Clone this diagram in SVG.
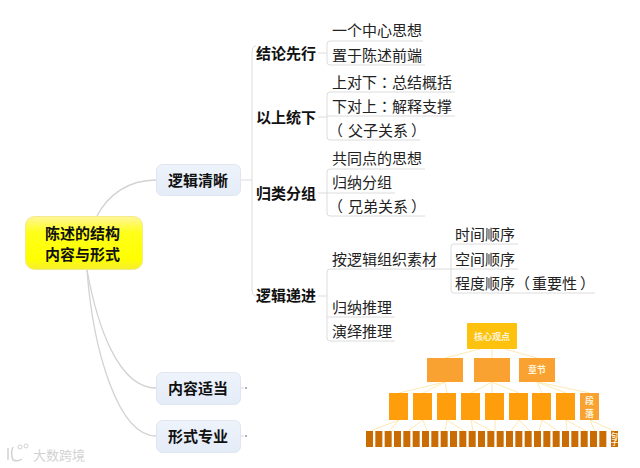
<svg xmlns="http://www.w3.org/2000/svg" width="640" height="468" viewBox="0 0 640 468">
<defs>
<linearGradient id="yg" x1="0" y1="0" x2="0" y2="1"><stop offset="0" stop-color="#fff59a"/><stop offset="0.3" stop-color="#ffff1a"/><stop offset="0.8" stop-color="#ffff00"/><stop offset="1" stop-color="#f6ee30"/></linearGradient>
<linearGradient id="bg" x1="0" y1="0" x2="0" y2="1"><stop offset="0" stop-color="#eef3fb"/><stop offset="1" stop-color="#e4ecf8"/></linearGradient>
</defs>
<style>
text{font-family:"Noto Sans CJK SC","Noto Sans",sans-serif;font-size:15px;fill:#222}
.tc{font-family:"Noto Sans CJK TC","Noto Sans",sans-serif}
.b{font-weight:700;fill:#111}
.m{text-anchor:middle}
.curve{fill:none;stroke:#d2d2d2;stroke-width:1.300}
.ln{fill:none;stroke:#dcdcdc;stroke-width:1}
.py{fill:none;stroke:#fbe3a0;stroke-width:.8}
.branch{fill:url(#bg);stroke:#dfe6f2;stroke-width:1}
.c0{fill:#fcc20e}
.c1{fill:#f9a231}
.c2{fill:#ff9e0c}
.c3{fill:#c96c03}
.w{fill:#fff3d8;font-weight:700;font-size:9px}
.dot{fill:#999}
.wm{fill:#d2d2d2;font-size:13px}
</style>
<g id="connectors">
<path class="curve" d="M97 216C108 195 128 180 156 180"/>
<path class="curve" d="M87 270C97 325 118 388 156 388"/>
<path class="curve" d="M87 270C93 350 118 436 156 436"/>
<path class="ln" d="M241 180H252M241 388H244M241 436H244"/>
<path class="ln" d="M256 46C253 46 252 49 252 54V288C252 293 253 296 256 296"/>
<path class="ln" d="M318 53H327M318 117H327M318 193H327M318 296H327"/>
<path class="ln" d="M423 41H330Q327 41 327 44V62Q327 65 330 65H425"/>
<path class="ln" d="M455 92H330Q327 92 327 95V137Q327 140 330 140H420M327 116H455"/>
<path class="ln" d="M425 169H330Q327 169 327 172V213Q327 216 330 216H425M327 193H395"/>
<path class="ln" d="M451 269H330Q327 269 327 272V338Q327 341 330 341H395M327 317H395"/>
<path class="ln" d="M518 244H454Q451 244 451 247V290Q451 293 454 293H595M451 269H518"/>
</g>
<g id="pyramid-links">
<path class="py" d="M480 349L445 358M492 349V358M505 349L537 358"/>
<path class="py" d="M445 382L399 393M445 382L423 393M445 382L447 393M492 382L471 393M492 382V393M492 382L519 393M537 382L542 393M537 382L566 393M537 382L590 393"/>
<path class="py" d="M399 420L370 431M399 420L389 431M423 420L408 431M423 420L427 431M447 420L445 431M447 420L464 431M471 420L473 431M471 420L492 431M495 420V431M519 420L511 431M519 420L530 431M542 420L539 431M542 420L558 431M566 420L567 431M566 420L586 431M590 420L595 431M590 420L614 431"/>
</g>
<g id="root"><rect x="25.500" y="216.500" width="117" height="53" rx="9" fill="url(#yg)" stroke="#f3ea8a"/><text class="b m" x="82.500" y="239">陈述的结构</text><text class="b m" x="82.500" y="260">内容与形式</text></g>
<g id="n1"><rect class="branch" x="156.500" y="164.500" width="84" height="31" rx="6"/><text class="b m" x="198" y="186">逻辑清晰</text></g>
<g id="n2"><rect class="branch" x="156.500" y="372.500" width="84" height="32" rx="6"/><text class="b m" x="198" y="394">内容适当</text><circle class="dot" cx="246" cy="388" r="1"/></g>
<g id="n3"><rect class="branch" x="156.500" y="420.500" width="84" height="32" rx="6"/><text class="b m" x="198" y="442">形式专业</text><circle class="dot" cx="246" cy="436" r="1"/></g>
<g id="a1"><text class="b" x="256" y="58.500">结论先行</text></g>
<g id="a2"><text class="b" x="256" y="122.500">以上统下</text></g>
<g id="a3"><text class="b" x="256" y="198.500">归类分组</text></g>
<g id="a4"><text class="b" x="256" y="301">逻辑递进</text></g>
<g id="leaf1"><text x="332" y="35.500">一个中心思想</text></g>
<g id="leaf2"><text x="332" y="60.500">置于陈述前端</text></g>
<g id="leaf3"><text x="332" y="87.500">上对下<tspan class="tc">：</tspan>总结概括</text></g>
<g id="leaf4"><text x="332" y="111.500">下对上<tspan class="tc">：</tspan>解释支撑</text></g>
<g id="leaf5"><text x="332" y="135.500"><tspan dx="-4">（</tspan><tspan dx="5">父子关系</tspan><tspan dx="3">）</tspan></text></g>
<g id="leaf6"><text x="332" y="163.500">共同点的思想</text></g>
<g id="leaf7"><text x="332" y="187.500">归纳分组</text></g>
<g id="leaf8"><text x="332" y="211.500"><tspan dx="-4">（</tspan><tspan dx="5">兄弟关系</tspan><tspan dx="3">）</tspan></text></g>
<g id="leaf9"><text x="332" y="264.500">按逻辑组织素材</text></g>
<g id="leaf10"><text x="455" y="239.500">时间顺序</text></g>
<g id="leaf11"><text x="455" y="264.500">空间顺序</text></g>
<g id="leaf12"><text x="455" y="288.500">程度顺序（<tspan dx="2">重要性</tspan><tspan dx="3">）</tspan></text></g>
<g id="leaf13"><text x="332" y="312.500">归纳推理</text></g>
<g id="leaf14"><text x="332" y="336.500">演绎推理</text></g>
<g id="pyramid">
<g id="p-top"><rect class="c0" x="467" y="323" width="50" height="26" rx="1"/><text class="w m" x="492" y="339.500">核心观点</text></g>
<g id="p-l2"><rect class="c1" x="427" y="358" width="36" height="24"/><rect class="c1" x="474" y="358" width="36" height="24"/><rect class="c1" x="519" y="358" width="36" height="24"/><text class="w m" x="537" y="373">章节</text></g>
<g id="p-l3"><rect class="c2" x="389" y="393" width="19" height="27"/><rect class="c2" x="413" y="393" width="19" height="27"/><rect class="c2" x="437" y="393" width="19" height="27"/><rect class="c2" x="461" y="393" width="19" height="27"/><rect class="c2" x="485" y="393" width="19" height="27"/><rect class="c2" x="509" y="393" width="19" height="27"/><rect class="c2" x="532" y="393" width="19" height="27"/><rect class="c2" x="556" y="393" width="19" height="27"/><rect class="c1" x="580" y="393" width="19" height="27"/><text class="w" x="589.500" y="396" style="writing-mode:vertical-rl;letter-spacing:4px">段落</text></g>
<g id="p-l4">
<rect class="c3" x="366" y="431" width="7" height="16"/><rect class="c3" x="375.330" y="431" width="7" height="16"/><rect class="c3" x="384.670" y="431" width="7" height="16"/><rect class="c3" x="394" y="431" width="7" height="16"/><rect class="c3" x="403.330" y="431" width="7" height="16"/><rect class="c3" x="412.670" y="431" width="7" height="16"/><rect class="c3" x="422" y="431" width="7" height="16"/><rect class="c3" x="431.330" y="431" width="7" height="16"/><rect class="c3" x="440.670" y="431" width="7" height="16"/><rect class="c3" x="450" y="431" width="7" height="16"/><rect class="c3" x="459.330" y="431" width="7" height="16"/><rect class="c3" x="468.670" y="431" width="7" height="16"/><rect class="c3" x="478" y="431" width="7" height="16"/><rect class="c3" x="487.330" y="431" width="7" height="16"/><rect class="c3" x="496.670" y="431" width="7" height="16"/><rect class="c3" x="506" y="431" width="7" height="16"/><rect class="c3" x="515.330" y="431" width="7" height="16"/><rect class="c3" x="524.670" y="431" width="7" height="16"/><rect class="c3" x="534" y="431" width="7" height="16"/><rect class="c3" x="543.330" y="431" width="7" height="16"/><rect class="c3" x="552.670" y="431" width="7" height="16"/><rect class="c3" x="562" y="431" width="7" height="16"/><rect class="c3" x="571.330" y="431" width="7" height="16"/><rect class="c3" x="580.670" y="431" width="7" height="16"/><rect class="c3" x="590" y="431" width="7" height="16"/><rect class="c3" x="599.330" y="431" width="7" height="16"/><rect class="c3" x="611" y="431" width="7" height="16"/><text class="w" x="614.500" y="432" style="font-size:7px;writing-mode:vertical-rl">句子</text>
</g>
</g>
<g id="watermark"><path d="M8 448V460M13 447Q10 453 13 460Q18 462 22 459" fill="none" stroke="#d2d2d2" stroke-width="1.500"/><circle cx="20" cy="447" r="2" fill="none" stroke="#d2d2d2"/><circle cx="26" cy="446" r="2" fill="none" stroke="#d2d2d2"/><text class="wm" x="33" y="460">大数跨境</text></g>
</svg>
